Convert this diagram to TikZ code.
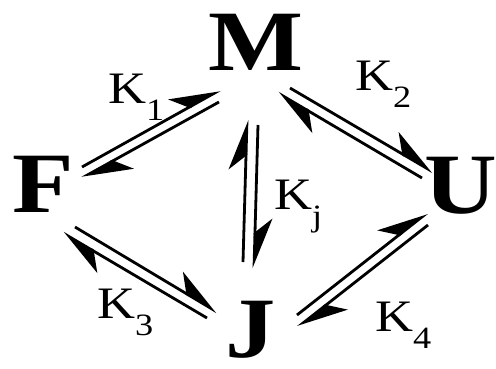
\documentclass[tikz,border=0pt]{standalone}
\usepackage{fontspec}
\setmainfont{Liberation Serif}
\usetikzlibrary{arrows.meta}

\newcommand{\widen}[1]{\scalebox{1.17}[1]{#1}}
\newcommand{\ksub}[1]{\widen{K\raisebox{-17pt}{\fontsize{31}{31}\selectfont #1}}}

\begin{document}
\begin{tikzpicture}[x=1pt, y=1pt,
  state/.style={font=\fontsize{86}{86}\selectfont\bfseries, inner sep=0pt, anchor=base},
  rate/.style={font=\fontsize{45}{45}\selectfont, inner sep=0pt, anchor=base west},
  rxn/.style={line width=2.8pt, -{Stealth[harpoon, length=46pt, width=34pt, inset=14pt]}}]
\useasboundingbox (0,0) rectangle (496,368);

% States
\node[state] (m) at (256,298) {\widen{M}};
\node[state] (f) at (43,156) {\widen{F}};
\node[state] (u) at (461,155) {\widen{U}};
\node[state] (j) at (251,11) {\widen{J}};

% Rate constants
\node[rate] (k1) at (108,265) {\ksub{1}};
\node[rate] (k2) at (355,278) {\ksub{2}};
\node[rate] (kj) at (274,159) {\ksub{j}};
\node[rate] (k3) at (97,50) {\ksub{3}};
\node[rate] (k4) at (375,37) {\ksub{4}};

% F <-> M
\draw[rxn] ([shift={(39,45)}]f.base) -- ([shift={(-36,-20)}]m.base);
\draw[rxn] ([shift={(-37,-32)}]m.base) -- ([shift={(39,34)}]f.base);
% M <-> U
\draw[rxn] ([shift={(34,-18)}]m.base) -- ([shift={(-28,41)}]u.base);
\draw[rxn] ([shift={(-39,35)}]u.base) -- ([shift={(22,-23)}]m.base);
% M <-> J
\draw[rxn] ([shift={(-8,95)}]j.base) -- ([shift={(-9,-50)}]m.base);
\draw[rxn] ([shift={(2,-55)}]m.base) -- ([shift={(3,89)}]j.base);
% F <-> J
\draw[rxn] ([shift={(32,-15)}]f.base) -- ([shift={(-34,45)}]j.base);
\draw[rxn] ([shift={(-44,39)}]j.base) -- ([shift={(20,-21)}]f.base);
% J <-> U
\draw[rxn] ([shift={(46,42)}]j.base) -- ([shift={(-34,0)}]u.base);
\draw[rxn] ([shift={(-33,-12)}]u.base) -- ([shift={(47,30)}]j.base);
\end{tikzpicture}
\end{document}
